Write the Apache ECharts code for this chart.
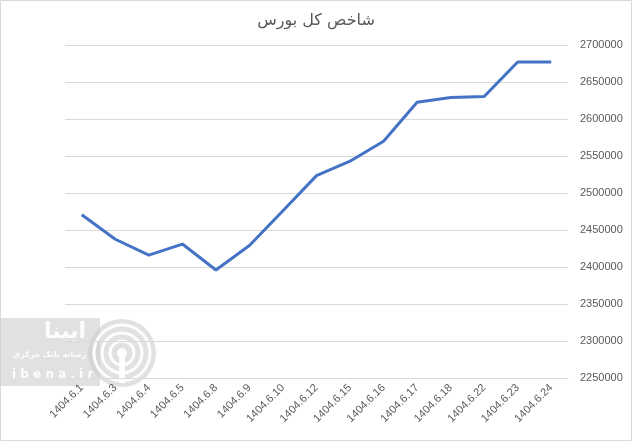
<!DOCTYPE html>
<html>
<head>
<meta charset="utf-8">
<script src="https://cdn.jsdelivr.net/npm/echarts@6/dist/echarts.min.js"></script>
<style>html,body{margin:0;padding:0;background:#fff}#c{width:632px;height:441px}</style>
</head>
<body>
<div id="c"></div>
<script>
var categories = ['1404.6.1','1404.6.3','1404.6.4','1404.6.5','1404.6.8','1404.6.9','1404.6.10','1404.6.12','1404.6.15','1404.6.16','1404.6.17','1404.6.18','1404.6.22','1404.6.23','1404.6.24'];
var values = [2470500, 2437500, 2416000, 2431000, 2396000, 2429000, 2476000, 2523500, 2543000, 2570000, 2622500, 2629000, 2630500, 2677000, 2677000];
var titleText = 'شاخص کل بورس';
var yMin = 2250000, yMax = 2700000, yStep = 50000;

var chart = echarts.init(document.getElementById('c'));
var wm = 'rgba(255,255,255,0.95)';
chart.setOption({
  animation: false,
  title: {text: titleText, left: 'center', top: 8, textStyle: {fontFamily: 'DejaVu Sans', fontSize: 16, fontWeight: 'normal', color: '#595959'}},
  grid: {left: 65, right: 64, top: 45, bottom: 63},
  xAxis: {
    type: 'category', data: categories, boundaryGap: true,
    axisLine: {show: true, lineStyle: {color: '#d9d9d9'}},
    axisTick: {show: false},
    axisLabel: {rotate: 45, interval: 0, fontSize: 11, color: '#595959', fontFamily: 'Liberation Sans', margin: 8}
  },
  yAxis: {
    type: 'value', position: 'right', min: yMin, max: yMax, interval: yStep,
    axisLine: {show: false}, axisTick: {show: false},
    splitLine: {lineStyle: {color: '#d9d9d9'}},
    axisLabel: {fontSize: 11, color: '#595959', fontFamily: 'Liberation Sans', margin: 12, formatter: function (v) { return String(v); }}
  },
  series: [{type: 'line', data: values, showSymbol: false, symbol: 'none', lineStyle: {color: '#4472C4', width: 3}, itemStyle: {color: '#4472C4'}}],
  graphic: [
    {type: 'rect', x: 0, y: 0, shape: {x: 0.5, y: 0.5, width: 631, height: 440}, style: {fill: 'none', stroke: '#d9d9d9', lineWidth: 1}, silent: true},
    {type: 'group', x: 0, y: 318, z: 100, silent: true, children: [
      {type: 'rect', shape: {x: 0, y: 0, width: 100, height: 68}, style: {fill: 'rgba(205,205,205,0.6)'}},
      {type: 'circle', shape: {cx: 122, cy: 35, r: 34}, style: {fill: 'rgba(205,205,205,0.6)'}},
      {type: 'circle', shape: {cx: 122, cy: 35, r: 28}, style: {fill: 'none', stroke: wm, lineWidth: 3}},
      {type: 'circle', shape: {cx: 122, cy: 35, r: 20}, style: {fill: 'none', stroke: wm, lineWidth: 3}},
      {type: 'circle', shape: {cx: 122, cy: 35, r: 12}, style: {fill: 'none', stroke: wm, lineWidth: 3}},
      {type: 'circle', shape: {cx: 122, cy: 35, r: 5}, style: {fill: wm}},
      {type: 'rect', shape: {x: 119, y: 35, width: 6, height: 30}, style: {fill: wm}},
      {type: 'text', x: 86, y: 14, style: {text: 'ایبنا', fill: wm, font: 'bold 22px "DejaVu Sans"', align: 'right', verticalAlign: 'middle'}},
      {type: 'text', x: 86, y: 37, style: {text: 'رسانه بانک مرکزی', fill: wm, font: 'bold 8px "DejaVu Sans"', align: 'right', verticalAlign: 'middle'}},
      {type: 'text', x: 12, y: 57, style: {text: 'i b e n a . i r', fill: wm, font: 'bold 12px "DejaVu Sans"', align: 'left', verticalAlign: 'middle'}}
    ]}
  ]
});
</script>
</body>
</html>
